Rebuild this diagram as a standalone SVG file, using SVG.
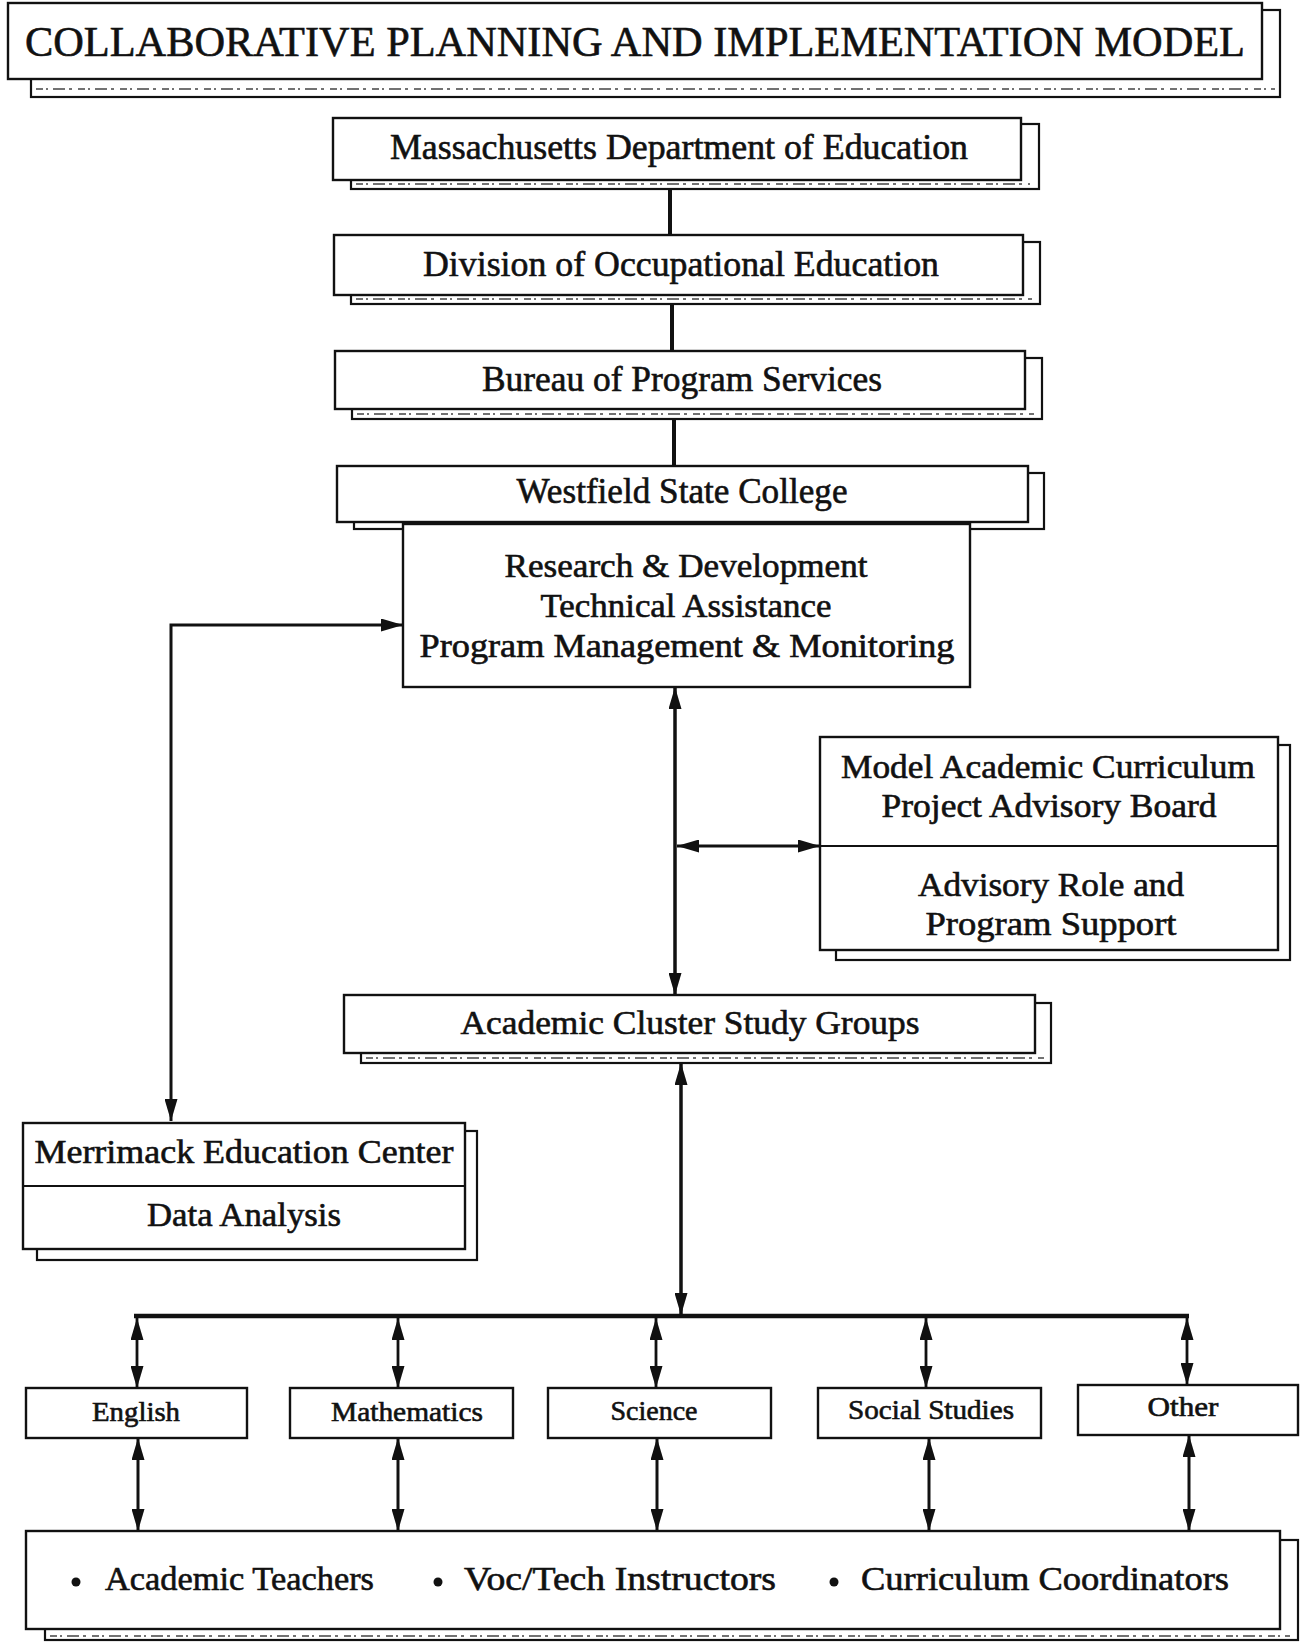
<svg xmlns="http://www.w3.org/2000/svg" width="1301" height="1643" viewBox="0 0 1301 1643">
<style>
.box{fill:#fff;stroke:#111;stroke-width:2.4}
.sh{fill:#fff;stroke:#111;stroke-width:2.2}
.noise{stroke:#444;stroke-width:1.6;stroke-dasharray:7 3 2 5 12 4 3 6;fill:none}
.t{font-family:"Liberation Serif","Times New Roman",serif;fill:#111;stroke:#111;stroke-width:0.6;text-anchor:middle}
.tl{font-family:"Liberation Serif","Times New Roman",serif;fill:#111;stroke:#111;stroke-width:0.6}
.c{stroke:#111;fill:none}
</style>
<defs>
<marker id="ah" viewBox="0 0 22 13" refX="22" refY="6.5" markerWidth="22" markerHeight="13" orient="auto-start-reverse" markerUnits="userSpaceOnUse"><path d="M0,0 L22,6.5 L0,13 z" fill="#111"/></marker>
</defs>
<rect width="1301" height="1643" fill="#fff"/>

<g id="connectors">
<line class="c" x1="670" y1="189" x2="670" y2="235" stroke-width="4"/>
<line class="c" x1="672" y1="304" x2="672" y2="351" stroke-width="4"/>
<line class="c" x1="674" y1="419" x2="674" y2="466" stroke-width="4"/>
<path class="c" d="M403,625 H171 V1121" stroke-width="3" marker-start="url(#ah)" marker-end="url(#ah)"/>
<line class="c" x1="675" y1="687" x2="675" y2="995" stroke-width="3.5" marker-start="url(#ah)" marker-end="url(#ah)"/>
<line class="c" x1="677" y1="846" x2="820" y2="846" stroke-width="3" marker-start="url(#ah)" marker-end="url(#ah)"/>
<line class="c" x1="681" y1="1063" x2="681" y2="1315" stroke-width="3.5" marker-start="url(#ah)" marker-end="url(#ah)"/>
<line class="c" x1="134" y1="1316" x2="1189" y2="1316" stroke-width="4.5"/>
<line class="c" x1="137" y1="1318" x2="137" y2="1388" stroke-width="2.8" marker-start="url(#ah)" marker-end="url(#ah)"/>
<line class="c" x1="398" y1="1318" x2="398" y2="1388" stroke-width="2.8" marker-start="url(#ah)" marker-end="url(#ah)"/>
<line class="c" x1="656" y1="1318" x2="656" y2="1388" stroke-width="2.8" marker-start="url(#ah)" marker-end="url(#ah)"/>
<line class="c" x1="926" y1="1318" x2="926" y2="1388" stroke-width="2.8" marker-start="url(#ah)" marker-end="url(#ah)"/>
<line class="c" x1="1187" y1="1318" x2="1187" y2="1385" stroke-width="2.8" marker-start="url(#ah)" marker-end="url(#ah)"/>
<line class="c" x1="138" y1="1438" x2="138" y2="1531" stroke-width="3" marker-start="url(#ah)" marker-end="url(#ah)"/>
<line class="c" x1="398" y1="1438" x2="398" y2="1531" stroke-width="3" marker-start="url(#ah)" marker-end="url(#ah)"/>
<line class="c" x1="657" y1="1438" x2="657" y2="1531" stroke-width="3" marker-start="url(#ah)" marker-end="url(#ah)"/>
<line class="c" x1="929" y1="1438" x2="929" y2="1531" stroke-width="3" marker-start="url(#ah)" marker-end="url(#ah)"/>
<line class="c" x1="1189" y1="1435" x2="1189" y2="1531" stroke-width="3" marker-start="url(#ah)" marker-end="url(#ah)"/>
</g>

<g id="title">
<rect class="sh" x="31" y="10" width="1249" height="87"/>
<line class="noise" x1="36" y1="89" x2="1275" y2="89"/>
<rect class="box" x="8" y="3" width="1254" height="76"/>
<text class="t" x="635" y="56" font-size="43" textLength="1220" lengthAdjust="spacingAndGlyphs">COLLABORATIVE PLANNING AND IMPLEMENTATION MODEL</text>
</g>

<g id="mass-doe">
<rect class="sh" x="351" y="124" width="688" height="65"/>
<line class="noise" x1="356" y1="184" x2="1030" y2="184"/>
<rect class="box" x="333" y="118" width="688" height="62"/>
<text class="t" x="679" y="159" font-size="35" textLength="578" lengthAdjust="spacingAndGlyphs">Massachusetts Department of Education</text>
</g>

<g id="div-occ">
<rect class="sh" x="351" y="242" width="689" height="62"/>
<line class="noise" x1="356" y1="299" x2="1032" y2="299"/>
<rect class="box" x="334" y="235" width="689" height="60"/>
<text class="t" x="681" y="276" font-size="35" textLength="516" lengthAdjust="spacingAndGlyphs">Division of Occupational Education</text>
</g>

<g id="bureau">
<rect class="sh" x="352" y="358" width="690" height="61"/>
<line class="noise" x1="357" y1="414" x2="1034" y2="414"/>
<rect class="box" x="335" y="351" width="690" height="58"/>
<text class="t" x="682" y="391" font-size="35" textLength="400" lengthAdjust="spacingAndGlyphs">Bureau of Program Services</text>
</g>

<g id="westfield">
<rect class="sh" x="354" y="473" width="690" height="56"/>
<rect class="box" x="337" y="466" width="691" height="56"/>
<text class="t" x="682" y="503" font-size="35" textLength="331" lengthAdjust="spacingAndGlyphs">Westfield State College</text>
</g>

<g id="research">
<rect class="box" x="403" y="524" width="567" height="163"/>
<text class="t" x="686" y="577" font-size="33" textLength="363" lengthAdjust="spacingAndGlyphs">Research &amp; Development</text>
<text class="t" x="686" y="617" font-size="33" textLength="291" lengthAdjust="spacingAndGlyphs">Technical Assistance</text>
<text class="t" x="687" y="657" font-size="33" textLength="535" lengthAdjust="spacingAndGlyphs">Program Management &amp; Monitoring</text>
</g>

<g id="advisory-board">
<rect class="sh" x="836" y="745" width="454" height="215"/>
<rect class="box" x="820" y="737" width="458" height="213"/>
<line class="c" x1="820" y1="846" x2="1278" y2="846" stroke-width="2.2"/>
<text class="t" x="1048" y="778" font-size="33" textLength="414" lengthAdjust="spacingAndGlyphs">Model Academic Curriculum</text>
<text class="t" x="1049" y="817" font-size="33" textLength="335" lengthAdjust="spacingAndGlyphs">Project Advisory Board</text>
<text class="t" x="1051" y="896" font-size="33" textLength="266" lengthAdjust="spacingAndGlyphs">Advisory Role and</text>
<text class="t" x="1051" y="935" font-size="33" textLength="251" lengthAdjust="spacingAndGlyphs">Program Support</text>
</g>

<g id="cluster">
<rect class="sh" x="361" y="1003" width="690" height="60"/>
<line class="noise" x1="366" y1="1058" x2="1044" y2="1058"/>
<rect class="box" x="344" y="995" width="691" height="58"/>
<text class="t" x="690" y="1034" font-size="34" textLength="459" lengthAdjust="spacingAndGlyphs">Academic Cluster Study Groups</text>
</g>

<g id="merrimack">
<rect class="sh" x="37" y="1131" width="440" height="129"/>
<rect class="box" x="23" y="1123" width="442" height="126"/>
<line class="c" x1="23" y1="1186" x2="465" y2="1186" stroke-width="2.2"/>
<text class="t" x="244" y="1163" font-size="33" textLength="419" lengthAdjust="spacingAndGlyphs">Merrimack Education Center</text>
<text class="t" x="244" y="1226" font-size="33" textLength="194" lengthAdjust="spacingAndGlyphs">Data Analysis</text>
</g>

<g id="english">
<rect class="box" x="26" y="1388" width="221" height="50"/>
<text class="t" x="136" y="1421" font-size="27" textLength="88" lengthAdjust="spacingAndGlyphs">English</text>
</g>
<g id="mathematics">
<rect class="box" x="290" y="1388" width="223" height="50"/>
<text class="t" x="407" y="1421" font-size="27" textLength="152" lengthAdjust="spacingAndGlyphs">Mathematics</text>
</g>
<g id="science">
<rect class="box" x="548" y="1388" width="223" height="50"/>
<text class="t" x="654" y="1420" font-size="27" textLength="87" lengthAdjust="spacingAndGlyphs">Science</text>
</g>
<g id="social-studies">
<rect class="box" x="818" y="1388" width="223" height="50"/>
<text class="t" x="931" y="1419" font-size="27" textLength="166" lengthAdjust="spacingAndGlyphs">Social Studies</text>
</g>
<g id="other">
<rect class="box" x="1078" y="1385" width="220" height="50"/>
<text class="t" x="1183" y="1416" font-size="27" textLength="71" lengthAdjust="spacingAndGlyphs">Other</text>
</g>

<g id="participants">
<rect class="sh" x="45" y="1540" width="1253" height="100"/>
<line class="noise" x1="50" y1="1636" x2="1290" y2="1636"/>
<rect class="box" x="26" y="1531" width="1254" height="98"/>
<circle cx="76" cy="1582" r="4.5" fill="#111"/>
<circle cx="438" cy="1582" r="4.5" fill="#111"/>
<circle cx="834" cy="1582" r="4.5" fill="#111"/>
<text class="tl" x="105" y="1590" font-size="34" textLength="269" lengthAdjust="spacingAndGlyphs">Academic Teachers</text>
<text class="tl" x="464" y="1590" font-size="34" textLength="312" lengthAdjust="spacingAndGlyphs">Voc/Tech Instructors</text>
<text class="tl" x="861" y="1590" font-size="34" textLength="368" lengthAdjust="spacingAndGlyphs">Curriculum Coordinators</text>
</g>
</svg>
